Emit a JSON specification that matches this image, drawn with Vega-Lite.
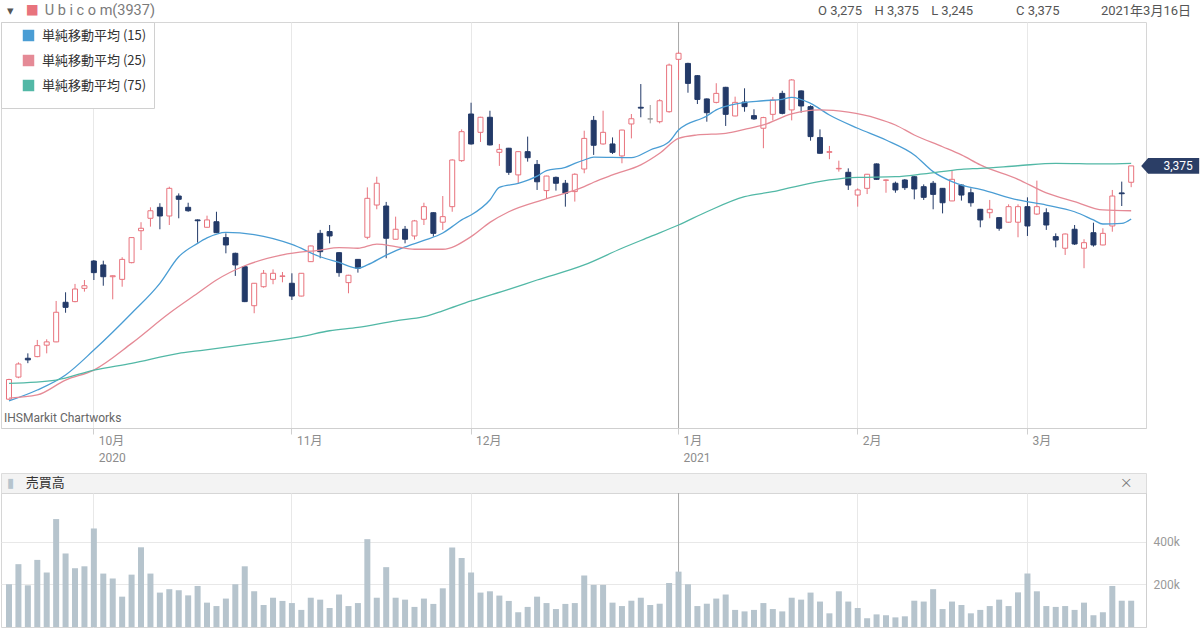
{
  "$schema": "https://vega.github.io/schema/vega-lite/v6.json",
  "padding": 0,
  "autosize": {"type": "pad"},
  "background": "#ffffff",
  "config": {
    "view": {"stroke": "#d6d6d6"},
    "font": "Roboto",
    "axis": {"labelFont": "Roboto, Noto Sans CJK JP", "labelColor": "#8c8c8c", "labelFontSize": 12, "gridColor": "#e8e8e8", "domainColor": "#cfcfcf", "tickColor": "#cfcfcf"}
  },
  "datasets": {
    "px": [
      {"d":"2020-09-16","o":1950,"h":2075,"l":1945,"c":2070,"v":200000},
      {"d":"2020-09-17","o":2085,"h":2175,"l":2078,"c":2165,"v":294000},
      {"d":"2020-09-18","o":2200,"h":2230,"l":2170,"c":2190,"v":195000},
      {"d":"2020-09-23","o":2210,"h":2312,"l":2206,"c":2277,"v":314000},
      {"d":"2020-09-24","o":2280,"h":2316,"l":2230,"c":2300,"v":255000},
      {"d":"2020-09-25","o":2300,"h":2550,"l":2298,"c":2481,"v":505000},
      {"d":"2020-09-28","o":2542,"h":2603,"l":2478,"c":2511,"v":344000},
      {"d":"2020-09-29","o":2546,"h":2654,"l":2542,"c":2623,"v":275000},
      {"d":"2020-09-30","o":2627,"h":2678,"l":2607,"c":2643,"v":284000},
      {"d":"2020-10-02","o":2794,"h":2800,"l":2678,"c":2723,"v":461000},
      {"d":"2020-10-05","o":2770,"h":2796,"l":2643,"c":2698,"v":250000},
      {"d":"2020-10-06","o":2698,"h":2706,"l":2560,"c":2704,"v":227000},
      {"d":"2020-10-07","o":2682,"h":2817,"l":2637,"c":2804,"v":142000},
      {"d":"2020-10-08","o":2784,"h":2940,"l":2780,"c":2937,"v":245000},
      {"d":"2020-10-09","o":2979,"h":3031,"l":2861,"c":2994,"v":373000},
      {"d":"2020-10-12","o":3055,"h":3122,"l":3004,"c":3101,"v":250000},
      {"d":"2020-10-13","o":3122,"h":3147,"l":2988,"c":3069,"v":161000},
      {"d":"2020-10-14","o":3069,"h":3248,"l":3014,"c":3238,"v":177000},
      {"d":"2020-10-15","o":3191,"h":3207,"l":3055,"c":3171,"v":172000},
      {"d":"2020-10-16","o":3122,"h":3150,"l":3095,"c":3101,"v":148000},
      {"d":"2020-10-19","o":3045,"h":3048,"l":2906,"c":3040,"v":192000},
      {"d":"2020-10-20","o":3000,"h":3071,"l":2998,"c":3045,"v":114000},
      {"d":"2020-10-21","o":3034,"h":3095,"l":2965,"c":2967,"v":98000},
      {"d":"2020-10-22","o":2937,"h":2963,"l":2841,"c":2892,"v":133000},
      {"d":"2020-10-23","o":2841,"h":2845,"l":2703,"c":2770,"v":200000},
      {"d":"2020-10-26","o":2759,"h":2762,"l":2543,"c":2546,"v":284000},
      {"d":"2020-10-27","o":2521,"h":2660,"l":2475,"c":2658,"v":167000},
      {"d":"2020-10-28","o":2637,"h":2739,"l":2631,"c":2719,"v":103000},
      {"d":"2020-10-29","o":2682,"h":2743,"l":2652,"c":2719,"v":137000},
      {"d":"2020-10-30","o":2700,"h":2727,"l":2664,"c":2703,"v":122000},
      {"d":"2020-11-02","o":2658,"h":2719,"l":2556,"c":2580,"v":112000},
      {"d":"2020-11-04","o":2580,"h":2720,"l":2578,"c":2719,"v":80000},
      {"d":"2020-11-05","o":2790,"h":2888,"l":2788,"c":2886,"v":137000},
      {"d":"2020-11-06","o":2963,"h":2984,"l":2811,"c":2851,"v":128000},
      {"d":"2020-11-09","o":2974,"h":3014,"l":2902,"c":2947,"v":89000},
      {"d":"2020-11-10","o":2845,"h":2848,"l":2698,"c":2723,"v":152000},
      {"d":"2020-11-11","o":2662,"h":2710,"l":2597,"c":2707,"v":98000},
      {"d":"2020-11-12","o":2804,"h":2806,"l":2723,"c":2750,"v":112000},
      {"d":"2020-11-13","o":2939,"h":3244,"l":2927,"c":3177,"v":411000},
      {"d":"2020-11-16","o":3136,"h":3309,"l":3110,"c":3269,"v":137000},
      {"d":"2020-11-17","o":3130,"h":3155,"l":2811,"c":2933,"v":280000},
      {"d":"2020-11-18","o":2927,"h":3065,"l":2925,"c":2988,"v":137000},
      {"d":"2020-11-19","o":2988,"h":3008,"l":2902,"c":2927,"v":128000},
      {"d":"2020-11-20","o":2947,"h":3045,"l":2925,"c":3039,"v":94000},
      {"d":"2020-11-24","o":3049,"h":3150,"l":3014,"c":3126,"v":133000},
      {"d":"2020-11-25","o":3089,"h":3092,"l":2943,"c":2963,"v":108000},
      {"d":"2020-11-26","o":3031,"h":3191,"l":2984,"c":3065,"v":181000},
      {"d":"2020-11-27","o":3126,"h":3415,"l":3095,"c":3411,"v":372000},
      {"d":"2020-11-30","o":3407,"h":3598,"l":3400,"c":3584,"v":323000},
      {"d":"2020-12-01","o":3692,"h":3761,"l":3505,"c":3509,"v":255000},
      {"d":"2020-12-02","o":3580,"h":3675,"l":3521,"c":3672,"v":161000},
      {"d":"2020-12-03","o":3672,"h":3712,"l":3500,"c":3503,"v":167000},
      {"d":"2020-12-04","o":3458,"h":3509,"l":3375,"c":3476,"v":147000},
      {"d":"2020-12-07","o":3483,"h":3485,"l":3320,"c":3336,"v":122000},
      {"d":"2020-12-08","o":3320,"h":3465,"l":3265,"c":3462,"v":69000},
      {"d":"2020-12-09","o":3462,"h":3554,"l":3401,"c":3425,"v":94000},
      {"d":"2020-12-10","o":3384,"h":3411,"l":3228,"c":3278,"v":142000},
      {"d":"2020-12-11","o":3224,"h":3315,"l":3177,"c":3313,"v":112000},
      {"d":"2020-12-14","o":3305,"h":3310,"l":3224,"c":3269,"v":84000},
      {"d":"2020-12-15","o":3269,"h":3289,"l":3126,"c":3208,"v":108000},
      {"d":"2020-12-16","o":3218,"h":3330,"l":3157,"c":3324,"v":112000},
      {"d":"2020-12-17","o":3356,"h":3590,"l":3330,"c":3543,"v":241000},
      {"d":"2020-12-18","o":3653,"h":3680,"l":3442,"c":3501,"v":197000},
      {"d":"2020-12-21","o":3509,"h":3712,"l":3505,"c":3580,"v":197000},
      {"d":"2020-12-22","o":3509,"h":3549,"l":3448,"c":3458,"v":114000},
      {"d":"2020-12-23","o":3436,"h":3596,"l":3391,"c":3594,"v":98000},
      {"d":"2020-12-24","o":3631,"h":3692,"l":3543,"c":3663,"v":123000},
      {"d":"2020-12-25","o":3733,"h":3875,"l":3672,"c":3728,"v":137000},
      {"d":"2020-12-28","o":3662,"h":3747,"l":3635,"c":3662,"v":103000},
      {"d":"2020-12-29","o":3645,"h":3782,"l":3635,"c":3773,"v":109000},
      {"d":"2020-12-30","o":3706,"h":4000,"l":3700,"c":3991,"v":206000},
      {"d":"2021-01-04","o":4026,"h":4073,"l":3900,"c":4063,"v":259000},
      {"d":"2021-01-05","o":4001,"h":4005,"l":3822,"c":3879,"v":200000},
      {"d":"2021-01-06","o":3926,"h":3930,"l":3753,"c":3781,"v":98000},
      {"d":"2021-01-07","o":3784,"h":3787,"l":3645,"c":3700,"v":109000},
      {"d":"2021-01-08","o":3763,"h":3880,"l":3757,"c":3818,"v":133000},
      {"d":"2021-01-12","o":3855,"h":3858,"l":3619,"c":3690,"v":152000},
      {"d":"2021-01-13","o":3680,"h":3798,"l":3678,"c":3763,"v":80000},
      {"d":"2021-01-14","o":3765,"h":3849,"l":3706,"c":3737,"v":73000},
      {"d":"2021-01-15","o":3682,"h":3721,"l":3656,"c":3662,"v":80000},
      {"d":"2021-01-18","o":3605,"h":3675,"l":3483,"c":3670,"v":112000},
      {"d":"2021-01-19","o":3690,"h":3796,"l":3653,"c":3778,"v":84000},
      {"d":"2021-01-20","o":3818,"h":3834,"l":3690,"c":3696,"v":73000},
      {"d":"2021-01-21","o":3717,"h":3905,"l":3653,"c":3900,"v":137000},
      {"d":"2021-01-22","o":3833,"h":3836,"l":3700,"c":3741,"v":128000},
      {"d":"2021-01-25","o":3737,"h":3745,"l":3529,"c":3554,"v":161000},
      {"d":"2021-01-26","o":3548,"h":3598,"l":3450,"c":3452,"v":119000},
      {"d":"2021-01-27","o":3458,"h":3497,"l":3416,"c":3462,"v":64000},
      {"d":"2021-01-28","o":3357,"h":3407,"l":3340,"c":3360,"v":167000},
      {"d":"2021-01-29","o":3336,"h":3360,"l":3228,"c":3258,"v":119000},
      {"d":"2021-02-01","o":3197,"h":3238,"l":3126,"c":3228,"v":89000},
      {"d":"2021-02-02","o":3238,"h":3326,"l":3203,"c":3324,"v":41000},
      {"d":"2021-02-03","o":3387,"h":3390,"l":3290,"c":3293,"v":59000},
      {"d":"2021-02-04","o":3287,"h":3292,"l":3211,"c":3289,"v":55000},
      {"d":"2021-02-05","o":3269,"h":3279,"l":3211,"c":3228,"v":45000},
      {"d":"2021-02-08","o":3289,"h":3295,"l":3228,"c":3242,"v":50000},
      {"d":"2021-02-09","o":3309,"h":3313,"l":3171,"c":3234,"v":123000},
      {"d":"2021-02-10","o":3248,"h":3262,"l":3167,"c":3183,"v":119000},
      {"d":"2021-02-12","o":3269,"h":3283,"l":3110,"c":3201,"v":177000},
      {"d":"2021-02-15","o":3238,"h":3240,"l":3085,"c":3150,"v":84000},
      {"d":"2021-02-16","o":3161,"h":3344,"l":3160,"c":3293,"v":119000},
      {"d":"2021-02-17","o":3258,"h":3262,"l":3163,"c":3197,"v":103000},
      {"d":"2021-02-18","o":3211,"h":3238,"l":3126,"c":3150,"v":64000},
      {"d":"2021-02-19","o":3110,"h":3112,"l":3000,"c":3045,"v":80000},
      {"d":"2021-02-22","o":3089,"h":3167,"l":3055,"c":3110,"v":98000},
      {"d":"2021-02-24","o":3059,"h":3062,"l":2979,"c":2994,"v":128000},
      {"d":"2021-02-25","o":3031,"h":3140,"l":3028,"c":3126,"v":98000},
      {"d":"2021-02-26","o":3031,"h":3140,"l":2939,"c":3126,"v":162000},
      {"d":"2021-03-01","o":3126,"h":3183,"l":2947,"c":3008,"v":250000},
      {"d":"2021-03-02","o":3081,"h":3285,"l":3075,"c":3126,"v":167000},
      {"d":"2021-03-03","o":3089,"h":3116,"l":2984,"c":3014,"v":98000},
      {"d":"2021-03-04","o":2943,"h":2963,"l":2878,"c":2922,"v":94000},
      {"d":"2021-03-05","o":2872,"h":2962,"l":2831,"c":2959,"v":98000},
      {"d":"2021-03-08","o":2988,"h":3014,"l":2892,"c":2898,"v":80000},
      {"d":"2021-03-09","o":2872,"h":2927,"l":2750,"c":2906,"v":114000},
      {"d":"2021-03-10","o":2967,"h":3028,"l":2882,"c":2892,"v":55000},
      {"d":"2021-03-11","o":2892,"h":2994,"l":2890,"c":2963,"v":69000},
      {"d":"2021-03-12","o":3008,"h":3228,"l":2973,"c":3191,"v":192000},
      {"d":"2021-03-15","o":3210,"h":3279,"l":3130,"c":3205,"v":123000},
      {"d":"2021-03-16","o":3275,"h":3375,"l":3245,"c":3375,"v":123000}
    ],
    "ma": [
      {"d":"2020-09-16","s":"15","v":1939},{"d":"2020-09-23","s":"15","v":2006},{"d":"2020-09-28","s":"15","v":2098},{"d":"2020-10-02","s":"15","v":2250},{"d":"2020-10-08","s":"15","v":2475},{"d":"2020-10-13","s":"15","v":2658},{"d":"2020-10-15","s":"15","v":2820},{"d":"2020-10-19","s":"15","v":2902},{"d":"2020-10-20","s":"15","v":2935},{"d":"2020-10-22","s":"15","v":2969},{"d":"2020-10-27","s":"15","v":2955},{"d":"2020-11-02","s":"15","v":2895},{"d":"2020-11-06","s":"15","v":2820},{"d":"2020-11-10","s":"15","v":2785},{"d":"2020-11-12","s":"15","v":2750},{"d":"2020-11-13","s":"15","v":2770},{"d":"2020-11-17","s":"15","v":2830},{"d":"2020-11-19","s":"15","v":2880},{"d":"2020-11-24","s":"15","v":2920},{"d":"2020-11-26","s":"15","v":2965},{"d":"2020-11-27","s":"15","v":3004},{"d":"2020-11-30","s":"15","v":3045},{"d":"2020-12-01","s":"15","v":3075},{"d":"2020-12-03","s":"15","v":3167},{"d":"2020-12-04","s":"15","v":3244},{"d":"2020-12-08","s":"15","v":3269},{"d":"2020-12-10","s":"15","v":3313},{"d":"2020-12-11","s":"15","v":3346},{"d":"2020-12-15","s":"15","v":3366},{"d":"2020-12-16","s":"15","v":3390},{"d":"2020-12-17","s":"15","v":3411},{"d":"2020-12-18","s":"15","v":3428},{"d":"2020-12-24","s":"15","v":3425},{"d":"2020-12-28","s":"15","v":3472},{"d":"2020-12-30","s":"15","v":3523},{"d":"2021-01-04","s":"15","v":3594},{"d":"2021-01-07","s":"15","v":3680},{"d":"2021-01-08","s":"15","v":3717},{"d":"2021-01-13","s":"15","v":3753},{"d":"2021-01-18","s":"15","v":3773},{"d":"2021-01-20","s":"15","v":3782},{"d":"2021-01-21","s":"15","v":3794},{"d":"2021-01-25","s":"15","v":3757},{"d":"2021-01-27","s":"15","v":3686},{"d":"2021-02-01","s":"15","v":3605},{"d":"2021-02-04","s":"15","v":3533},{"d":"2021-02-09","s":"15","v":3442},{"d":"2021-02-12","s":"15","v":3340},{"d":"2021-02-16","s":"15","v":3279},{"d":"2021-02-17","s":"15","v":3258},{"d":"2021-02-19","s":"15","v":3232},{"d":"2021-02-26","s":"15","v":3167},{"d":"2021-03-03","s":"15","v":3136},{"d":"2021-03-08","s":"15","v":3095},{"d":"2021-03-10","s":"15","v":3045},{"d":"2021-03-11","s":"15","v":3020},{"d":"2021-03-15","s":"15","v":3024},{"d":"2021-03-16","s":"15","v":3051},
      {"d":"2020-09-16","s":"25","v":1957},{"d":"2020-09-23","s":"25","v":1976},{"d":"2020-09-28","s":"25","v":2067},{"d":"2020-10-02","s":"25","v":2128},{"d":"2020-10-08","s":"25","v":2291},{"d":"2020-10-14","s":"25","v":2475},{"d":"2020-10-19","s":"25","v":2597},{"d":"2020-10-21","s":"25","v":2678},{"d":"2020-10-26","s":"25","v":2765},{"d":"2020-10-30","s":"25","v":2831},{"d":"2020-11-06","s":"25","v":2861},{"d":"2020-11-10","s":"25","v":2876},{"d":"2020-11-12","s":"25","v":2872},{"d":"2020-11-16","s":"25","v":2897},{"d":"2020-11-18","s":"25","v":2882},{"d":"2020-11-20","s":"25","v":2866},{"d":"2020-11-26","s":"25","v":2866},{"d":"2020-12-01","s":"25","v":2943},{"d":"2020-12-03","s":"25","v":3030},{"d":"2020-12-07","s":"25","v":3095},{"d":"2020-12-11","s":"25","v":3175},{"d":"2020-12-17","s":"25","v":3248},{"d":"2020-12-18","s":"25","v":3275},{"d":"2020-12-22","s":"25","v":3320},{"d":"2020-12-25","s":"25","v":3381},{"d":"2020-12-29","s":"25","v":3452},{"d":"2021-01-04","s":"25","v":3543},{"d":"2021-01-06","s":"25","v":3564},{"d":"2021-01-12","s":"25","v":3574},{"d":"2021-01-14","s":"25","v":3598},{"d":"2021-01-18","s":"25","v":3625},{"d":"2021-01-21","s":"25","v":3693},{"d":"2021-01-26","s":"25","v":3717},{"d":"2021-01-29","s":"25","v":3703},{"d":"2021-02-03","s":"25","v":3666},{"d":"2021-02-05","s":"25","v":3625},{"d":"2021-02-09","s":"25","v":3564},{"d":"2021-02-15","s":"25","v":3492},{"d":"2021-02-17","s":"25","v":3442},{"d":"2021-02-19","s":"25","v":3381},{"d":"2021-02-26","s":"25","v":3293},{"d":"2021-03-03","s":"25","v":3210},{"d":"2021-03-08","s":"25","v":3157},{"d":"2021-03-11","s":"25","v":3106},{"d":"2021-03-16","s":"25","v":3101},
      {"d":"2020-09-16","s":"75","v":2047},{"d":"2020-09-25","s":"75","v":2067},{"d":"2020-10-02","s":"75","v":2128},{"d":"2020-10-08","s":"75","v":2169},{"d":"2020-10-15","s":"75","v":2230},{"d":"2020-10-19","s":"75","v":2245},{"d":"2020-10-27","s":"75","v":2291},{"d":"2020-11-04","s":"75","v":2332},{"d":"2020-11-09","s":"75","v":2368},{"d":"2020-11-12","s":"75","v":2389},{"d":"2020-11-18","s":"75","v":2429},{"d":"2020-11-24","s":"75","v":2454},{"d":"2020-11-26","s":"75","v":2490},{"d":"2020-12-01","s":"75","v":2550},{"d":"2020-12-07","s":"75","v":2621},{"d":"2020-12-10","s":"75","v":2678},{"d":"2020-12-17","s":"75","v":2770},{"d":"2020-12-23","s":"75","v":2872},{"d":"2020-12-28","s":"75","v":2943},{"d":"2021-01-04","s":"75","v":3014},{"d":"2021-01-07","s":"75","v":3095},{"d":"2021-01-14","s":"75","v":3187},{"d":"2021-01-19","s":"75","v":3218},{"d":"2021-01-21","s":"75","v":3244},{"d":"2021-01-27","s":"75","v":3289},{"d":"2021-02-01","s":"75","v":3305},{"d":"2021-02-05","s":"75","v":3309},{"d":"2021-02-10","s":"75","v":3326},{"d":"2021-02-17","s":"75","v":3354},{"d":"2021-02-19","s":"75","v":3360},{"d":"2021-02-26","s":"75","v":3376},{"d":"2021-03-04","s":"75","v":3391},{"d":"2021-03-11","s":"75","v":3387},{"d":"2021-03-16","s":"75","v":3391}
    ],
    "hdr": [
      {"d":"2020-09-16","t":"▾"},
      {"d":"2020-09-18","t":"■"},
      {"d":"2020-09-24","t":"U b i c o m(3937)"},
      {"d":"2021-01-26","t":"O 3,275"},
      {"d":"2021-02-03","t":"H 3,375"},
      {"d":"2021-02-12","t":"L 3,245"},
      {"d":"2021-02-26","t":"C 3,375"},
      {"d":"2021-03-11","t":"2021年3月16日"}
    ],
    "vh": [
      {"d":"2020-09-16","t":"▮"},
      {"d":"2020-09-18","t":"売買高"},
      {"d":"2021-03-15","t":"×"}
    ],
    "jan": [{"d":"2021-01-04"}]
  },
  "bounds": "full",
  "spacing": 8,
  "resolve": {"scale": {"x": "shared", "color": "independent", "size": "independent"}, "axis": {"x": "independent"}, "legend": {"color": "independent"}},
  "vconcat": [
    {
      "bounds": "flush",
      "spacing": 0,
      "resolve": {"scale": {"x": "shared", "color": "independent", "size": "independent"}, "axis": {"x": "independent"}, "legend": {"color": "independent"}},
      "vconcat": [
        {
          "width": 1145,
          "height": 22,
          "view": {"stroke": null},
          "data": {"name": "hdr"},
          "mark": {"type": "text", "align": "left", "baseline": "middle", "dx": -2, "font": "Roboto, Noto Sans CJK JP, DejaVu Sans"},
          "encoding": {
            "x": {"field": "d", "type": "ordinal", "scale": {"type": "band", "paddingInner": 0, "paddingOuter": 0.71, "align": 0.245}, "axis": null},
            "text": {"field": "t"},
            "size": {"condition": {"test": "datum.t == 'U b i c o m(3937)'", "value": 14.5}, "value": 13},
            "color": {"condition": [{"test": "datum.t == '■'", "value": "#e8737d"}, {"test": "datum.t == 'U b i c o m(3937)'", "value": "#7a7a7a"}], "value": "#555555"}
          }
        },
        {
          "width": 1145,
          "height": 406,
          "title": {"text": "IHSMarkit Chartworks", "orient": "bottom", "anchor": "start", "frame": "group", "offset": -50, "dx": 3, "fontSize": 12, "fontWeight": "normal", "color": "#666666", "font": "Roboto"},
          "encoding": {
            "x": {
              "field": "d", "type": "ordinal",
              "scale": {"type": "band", "paddingInner": 0, "paddingOuter": 0.71, "align": 0.245},
              "axis": {
                "values": ["2020-10-02","2020-11-02","2020-12-01","2021-01-04","2021-02-01","2021-03-01"],
                "labelExpr": "datum.value == '2020-10-02' ? ['10月','2020'] : datum.value == '2020-11-02' ? '11月' : datum.value == '2020-12-01' ? '12月' : datum.value == '2021-01-04' ? ['1月','2021'] : datum.value == '2021-02-01' ? '2月' : '3月'",
                "labelAlign": "left", "labelBaseline": "top", "labelOffset": 5, "labelPadding": 1, "labelLineHeight": 17, "labelAngle": 0,
                "labelOverlap": false, "labelFlush": false, "tickSize": 6, "grid": true, "title": null
              }
            }
          },
          "layer": [
            {
              "data": {"name": "jan"},
              "mark": {"type": "rule", "color": "#a9a9a9", "strokeWidth": 1},
              "encoding": {}
            },
            {
              "data": {"name": "px"},
              "mark": {"type": "rule", "strokeWidth": 1},
              "encoding": {
                "y": {"field": "l", "type": "quantitative", "scale": {"domain": [1774, 4254], "nice": false, "zero": false}, "axis": null},
                "y2": {"field": "h"},
                "stroke": {"condition": [{"test": "datum.c > datum.o", "value": "#e8737d"}, {"test": "datum.c == datum.o", "value": "#9a9a9a"}], "value": "#233a68"}
              }
            },
            {
              "data": {"name": "px"},
              "mark": {"type": "bar", "size": 5, "strokeWidth": 1},
              "encoding": {
                "y": {"field": "o", "type": "quantitative", "scale": {"domain": [1774, 4254], "nice": false, "zero": false},
                  "axis": {"orient": "right", "values": [2000, 2500, 3000, 3500, 4000], "format": ",", "ticks": false, "grid": true, "labelPadding": 7, "title": null, "labelColor": "#999999"}},
                "y2": {"field": "c"},
                "fill": {"condition": [{"test": "datum.c > datum.o", "value": "#ffffff"}, {"test": "datum.c == datum.o", "value": "#9a9a9a"}], "value": "#233a68"},
                "stroke": {"condition": [{"test": "datum.c > datum.o", "value": "#e8737d"}, {"test": "datum.c == datum.o", "value": "#9a9a9a"}], "value": "#233a68"}
              }
            },
            {
              "data": {"name": "ma"},
              "mark": {"type": "line", "strokeWidth": 1.3, "interpolate": "monotone"},
              "encoding": {
                "y": {"field": "v", "type": "quantitative", "scale": {"domain": [1774, 4254], "nice": false, "zero": false}, "axis": null},
                "color": {
                  "field": "s", "type": "nominal",
                  "scale": {"domain": ["15", "25", "75"], "range": ["#4a9dd4", "#e58a96", "#52b8a6"]},
                  "legend": {
                    "orient": "top-left", "offset": 0, "padding": 7, "title": null,
                    "labelExpr": "'単純移動平均 (' + datum.label + ')'",
                    "symbolType": "square", "symbolSize": 30, "symbolStrokeWidth": 6, "symbolOffset": 14, "labelOffset": 7,
                    "rowPadding": -6, "fillColor": "#ffffff", "strokeColor": "#d0d0d0",
                    "labelFont": "Noto Sans CJK JP", "labelFontSize": 13, "labelColor": "#333333", "labelLimit": 300
                  }
                }
              }
            },
            {
              "data": {"name": "px"},
              "transform": [{"filter": "datum.d == '2021-03-16'"}],
              "mark": {"type": "point", "shape": "M-1,0L-0.76,-0.27L1,-0.27L1,0.27L-0.76,0.27Z", "size": 3364, "filled": true, "fill": "#2b3e66", "opacity": 1, "strokeWidth": 0, "xOffset": 39},
              "encoding": {
                "y": {"field": "c", "type": "quantitative", "scale": {"domain": [1774, 4254], "nice": false, "zero": false}, "axis": null}
              }
            },
            {
              "data": {"name": "px"},
              "transform": [{"filter": "datum.d == '2021-03-16'"}],
              "mark": {"type": "text", "color": "#ffffff", "fontSize": 12, "font": "Roboto", "xOffset": 47, "baseline": "middle"},
              "encoding": {
                "y": {"field": "c", "type": "quantitative", "scale": {"domain": [1774, 4254], "nice": false, "zero": false}, "axis": null},
                "text": {"field": "c", "format": ","}
              }
            }
          ]
        }
      ]
    },
    {
      "bounds": "flush",
      "spacing": 0,
      "resolve": {"scale": {"x": "shared"}, "axis": {"x": "independent"}},
      "vconcat": [
        {
          "width": 1145,
          "height": 20,
          "view": {"fill": "#f3f3f3", "stroke": "#dcdcdc"},
          "data": {"name": "vh"},
          "mark": {"type": "text", "align": "left", "baseline": "middle", "dx": -2, "fontSize": 13, "font": "Noto Sans CJK JP, DejaVu Sans"},
          "encoding": {
            "x": {"field": "d", "type": "ordinal", "scale": {"type": "band", "paddingInner": 0, "paddingOuter": 0.71, "align": 0.245}, "axis": null},
            "text": {"field": "t"},
            "color": {"condition": [{"test": "datum.t == '▮'", "value": "#b6c4cd"}, {"test": "datum.t == '×'", "value": "#777777"}], "value": "#333333"}
          }
        },
        {
          "width": 1145,
          "height": 134,
          "encoding": {
            "x": {
              "field": "d", "type": "ordinal",
              "scale": {"type": "band", "paddingInner": 0, "paddingOuter": 0.71, "align": 0.245},
              "axis": {"values": ["2020-10-02","2020-11-02","2020-12-01","2021-01-04","2021-02-01","2021-03-01"], "labels": false, "ticks": false, "domain": false, "grid": true, "title": null}
            }
          },
          "layer": [
            {
              "data": {"name": "jan"},
              "mark": {"type": "rule", "color": "#a9a9a9", "strokeWidth": 1},
              "encoding": {}
            },
            {
              "data": {"name": "px"},
              "mark": {"type": "bar", "size": 6, "color": "#b6c4cd"},
              "encoding": {
                "y": {"field": "v", "type": "quantitative", "scale": {"domain": [0, 627000], "nice": false},
                  "axis": {"orient": "right", "values": [200000, 400000], "labelExpr": "(datum.value / 1000) + 'k'", "ticks": false, "grid": true, "labelPadding": 7, "title": null, "labelColor": "#999999"}}
              }
            }
          ]
        }
      ]
    }
  ]
}
